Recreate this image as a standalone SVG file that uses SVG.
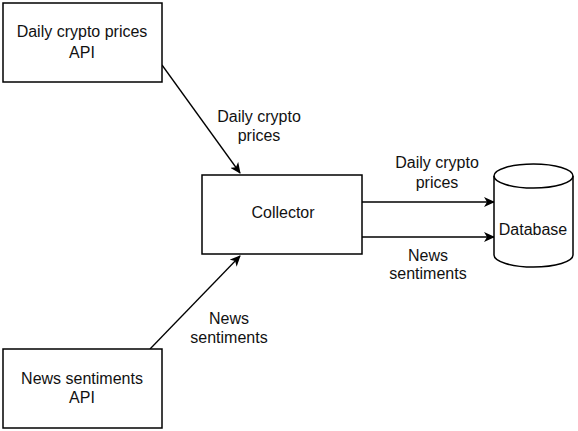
<svg xmlns="http://www.w3.org/2000/svg" width="578" height="431" viewBox="0 0 578 431">
<style>
.box{fill:#fff;stroke:#000;stroke-width:1.5}
.t{font-family:"Liberation Sans",Arial,sans-serif;font-size:16px;fill:#111;text-anchor:middle}
.c{stroke:#000;stroke-width:1.3;fill:none;marker-end:url(#ah)}
</style>
<defs>
<marker id="ah" markerWidth="12" markerHeight="10" refX="10" refY="5" orient="auto" markerUnits="userSpaceOnUse">
<path d="M0,0 L11,5 L0,10 L3,5 Z" fill="#000"/>
</marker>
</defs>
<rect width="578" height="431" fill="#fff"/>
<g id="connectors">
<line class="c" x1="162" y1="65" x2="240" y2="173"/>
<line class="c" x1="150" y1="349" x2="240" y2="256"/>
<line class="c" x1="362" y1="202" x2="494" y2="202"/>
<line class="c" x1="362" y1="237" x2="494" y2="237"/>
<text class="t" x="259" y="122">Daily crypto</text>
<text class="t" x="259" y="141">prices</text>
<text class="t" x="229" y="324">News</text>
<text class="t" x="229" y="343">sentiments</text>
<text class="t" x="437" y="168">Daily crypto</text>
<text class="t" x="437" y="188">prices</text>
<text class="t" x="428" y="261">News</text>
<text class="t" x="428" y="279">sentiments</text>
</g>
<g id="crypto-api">
<rect class="box" x="3" y="3" width="159" height="79"/>
<text class="t" x="82" y="37">Daily crypto prices</text>
<text class="t" x="82" y="58">API</text>
</g>
<g id="news-api">
<rect class="box" x="3" y="349" width="159" height="79"/>
<text class="t" x="82" y="384">News sentiments</text>
<text class="t" x="82" y="403">API</text>
</g>
<g id="collector">
<rect class="box" x="202" y="175" width="160" height="79"/>
<text class="t" x="283" y="218">Collector</text>
</g>
<g id="database">
<path class="box" d="M494,176 L494,255 A39.5,12 0 0 0 573,255 L573,176 A39.5,12 0 0 0 494,176 Z"/>
<path d="M494,176 A39.5,12 0 0 0 573,176" fill="none" stroke="#000" stroke-width="1.5"/>
<text class="t" x="533" y="235">Database</text>
</g>
</svg>
